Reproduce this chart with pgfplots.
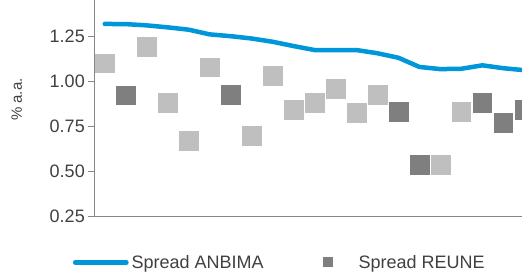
\documentclass[border=0pt]{standalone}
\usepackage{fontspec}
\setmainfont{Liberation Sans}
\usepackage{pgfplots}
\pgfplotsset{compat=1.18}
\definecolor{anbima}{RGB}{0,150,218}
\definecolor{reune}{RGB}{127,127,127}
\definecolor{lightsq}{RGB}{191,191,191}
\definecolor{axisgray}{RGB}{134,134,134}
\definecolor{txt}{RGB}{64,64,64}
\begin{document}
\begin{tikzpicture}
\useasboundingbox (0,0) rectangle (522pt,273pt);
\begin{axis}[
  at={(94.3pt,56.3pt)}, anchor=south west,
  scale only axis, width=440.5pt, height=216.7pt,
  xmin=-0.5, xmax=20.5, ymin=0.25, ymax=1.454,
  axis x line=bottom, axis y line=left,
  axis line style={axisgray, line width=1.5pt, -},
  xtick=\empty,
  ytick={0.25,0.5,0.75,1,1.25},
  yticklabels={0.25,0.50,0.75,1.00,1.25},
  tick align=outside, major tick length=6pt,
  y tick style={axisgray, line width=1.2pt},
  /pgf/number format/assume math mode=true,
  ticklabel style={font=\fontsize{18}{20}\selectfont, text=txt},
  ylabel={\% a.a.},
  ylabel style={font=\fontsize{15}{18}\selectfont, text=txt, at={(axis description cs:-0.176,0.54)}, anchor=center},
  clip marker paths=true,
  legend columns=2,
  legend style={at={(axis description cs:-0.049,-0.2104)}, anchor=west, draw=none, fill=none, inner sep=0pt,
    font=\fontsize{18}{20}\selectfont, text=txt,
    nodes={inner xsep=3pt, inner ysep=0pt},
    /tikz/every even column/.append style={column sep=56pt}},
]
\addplot[anbima, line width=4.5pt, line cap=round, line join=round,
  legend image code/.code={\draw[anbima, line width=4.5pt, line cap=round] (2.25pt,0pt) -- (53.5pt,0pt);}]
  table {
x y
0 1.321
1 1.320
2 1.313
3 1.302
4 1.289
5 1.263
6 1.253
7 1.240
8 1.222
9 1.198
10 1.176
11 1.175
12 1.176
13 1.158
14 1.133
15 1.082
16 1.070
17 1.072
18 1.091
19 1.075
20 1.064
};
\addlegendentry{Spread ANBIMA}
\addplot[reune, only marks, mark=square*, mark size=9.3pt, line width=0.4pt,
  legend image code/.code={\fill[reune, draw=none] (0pt,-5pt) rectangle (10pt,5pt); \path[draw=none, fill=none] (0pt,0pt) -- (33pt,0pt);}]
  table {
x y
1 0.924
6 0.929
14 0.834
15 0.540
18 0.884
19 0.773
20 0.846
};
\addlegendentry{Spread REUNE}
\addplot[lightsq, only marks, mark=square*, mark size=9.3pt, line width=0.4pt, forget plot]
  table {
x y
0 1.102
2 1.194
3 0.883
4 0.673
5 1.080
7 0.701
8 1.034
9 0.846
10 0.884
11 0.962
12 0.829
13 0.929
16 0.540
17 0.834
};
\end{axis}
\end{tikzpicture}
\end{document}
